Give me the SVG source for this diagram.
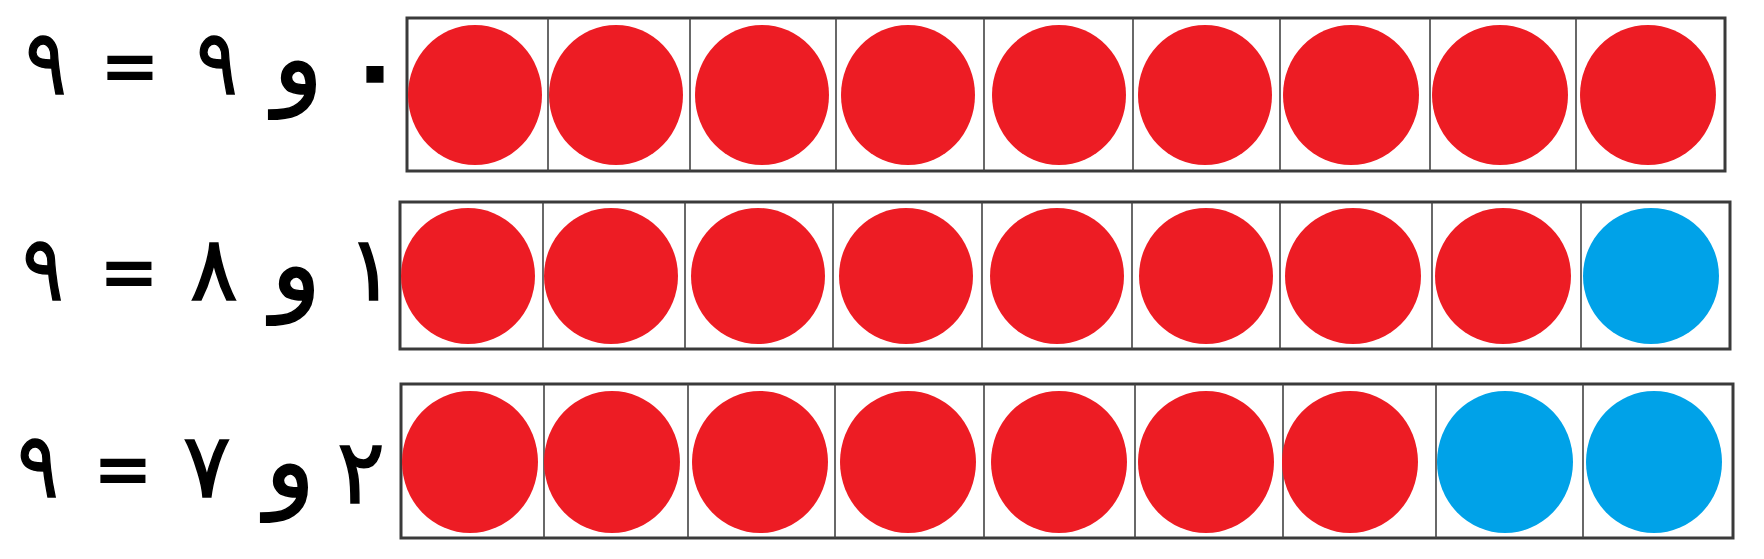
<svg xmlns="http://www.w3.org/2000/svg" width="1764" height="559" viewBox="0 0 1764 559">
<style>
.frame{fill:#fff;stroke:#3a3a3a;stroke-width:3}
.div{stroke:#444;stroke-width:1.6}
.r{fill:#ED1C24}
.b{fill:#00A2E8}
.t{font-family:"DejaVu Sans",sans-serif;font-size:90px;fill:#000;stroke:#000;stroke-width:1.5;text-anchor:middle}
.w{font-family:"DejaVu Sans",sans-serif;font-size:104px;fill:#000;stroke:#000;stroke-width:1.5;text-anchor:middle}
.eq{font-family:"DejaVu Sans",sans-serif;font-size:72px;font-weight:bold;fill:#000;text-anchor:middle}
</style>
<rect width="1764" height="559" fill="#fff"/>
<g id="row1">
<g id="row1-label">
<text class="t" transform="translate(46 94) scale(0.85 1)">٩</text>
<text class="eq" x="130" y="90">=</text>
<text class="t" transform="translate(217 94) scale(0.85 1)">٩</text>
<text class="w" x="298" y="94">و</text>
<text class="t" x="375" y="100" font-weight="bold">٠</text>
</g>
<g id="row1-frame">
<rect class="frame" x="407" y="18" width="1318" height="153"/>
<path class="div" d="M548 18V171M690 18V171M836 18V171M984 18V171M1133 18V171M1280 18V171M1430 18V171M1576 18V171"/>
<ellipse class="r" cx="475" cy="95" rx="67" ry="70"/>
<ellipse class="r" cx="616" cy="95" rx="67" ry="70"/>
<ellipse class="r" cx="762" cy="95" rx="67" ry="70"/>
<ellipse class="r" cx="908" cy="95" rx="67" ry="70"/>
<ellipse class="r" cx="1059" cy="95" rx="67" ry="70"/>
<ellipse class="r" cx="1205" cy="95" rx="67" ry="70"/>
<ellipse class="r" cx="1351" cy="95" rx="68" ry="70"/>
<ellipse class="r" cx="1500" cy="95" rx="68" ry="70"/>
<ellipse class="r" cx="1648" cy="95" rx="68" ry="70"/>
</g>
</g>
<g id="row2">
<g id="row2-label">
<text class="t" transform="translate(43 300) scale(0.85 1)">٩</text>
<text class="eq" x="129" y="296">=</text>
<text class="t" x="214" y="300">٨</text>
<text class="w" x="296" y="300">و</text>
<text class="t" x="371" y="300">١</text>
</g>
<g id="row2-frame">
<rect class="frame" x="400" y="202" width="1330" height="147"/>
<path class="div" d="M543 202V349M685 202V349M833 202V349M982 202V349M1132 202V349M1280 202V349M1432 202V349M1581 202V349"/>
<ellipse class="r" cx="468" cy="276" rx="67" ry="68"/>
<ellipse class="r" cx="611" cy="276" rx="67" ry="68"/>
<ellipse class="r" cx="758" cy="276" rx="67" ry="68"/>
<ellipse class="r" cx="906" cy="276" rx="67" ry="68"/>
<ellipse class="r" cx="1057" cy="276" rx="67" ry="68"/>
<ellipse class="r" cx="1206" cy="276" rx="67" ry="68"/>
<ellipse class="r" cx="1353" cy="276" rx="68" ry="68"/>
<ellipse class="r" cx="1503" cy="276" rx="68" ry="68"/>
<ellipse class="b" cx="1651" cy="276" rx="68" ry="68"/>
</g>
</g>
<g id="row3">
<g id="row3-label">
<text class="t" transform="translate(38 497) scale(0.85 1)">٩</text>
<text class="eq" x="123" y="493">=</text>
<text class="t" x="207" y="497">٧</text>
<text class="w" x="290" y="497">و</text>
<text class="t" x="361" y="503">٢</text>
</g>
<g id="row3-frame">
<rect class="frame" x="401" y="384" width="1332" height="154"/>
<path class="div" d="M544 384V538M688 384V538M835 384V538M984 384V538M1135 384V538M1283 384V538M1436 384V538M1583 384V538"/>
<ellipse class="r" cx="470" cy="462" rx="68" ry="71"/>
<ellipse class="r" cx="612" cy="462" rx="68" ry="71"/>
<ellipse class="r" cx="760" cy="462" rx="68" ry="71"/>
<ellipse class="r" cx="908" cy="462" rx="68" ry="71"/>
<ellipse class="r" cx="1059" cy="462" rx="68" ry="71"/>
<ellipse class="r" cx="1206" cy="462" rx="68" ry="71"/>
<ellipse class="r" cx="1350" cy="462" rx="68" ry="71"/>
<ellipse class="b" cx="1505" cy="462" rx="68" ry="71"/>
<ellipse class="b" cx="1654" cy="462" rx="68" ry="71"/>
</g>
</g>
</svg>
